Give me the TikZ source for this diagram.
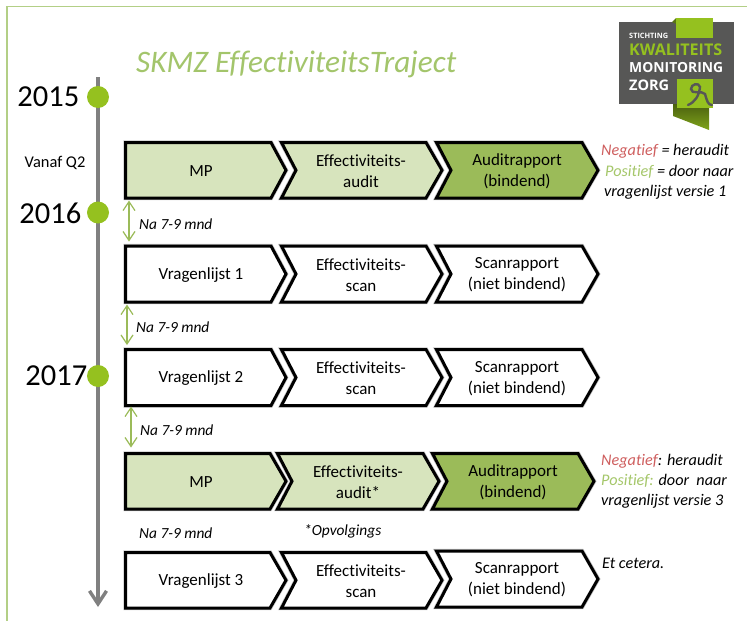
\documentclass[tikz,border=0pt]{standalone}
\usepackage{fontspec}
\usepackage{graphicx}
\setmainfont[Ligatures=NoCommon]{Carlito}
\newfontfamily\logofont{Open Sans}
\usetikzlibrary{arrows.meta}
\definecolor{frameg}{HTML}{B3CF86}
\definecolor{titleg}{HTML}{A3C56B}
\definecolor{lightf}{HTML}{D7E4BD}
\definecolor{darkf}{HTML}{9BBB59}
\definecolor{dotg}{HTML}{95C11F}
\definecolor{axisg}{HTML}{808080}
\definecolor{negr}{HTML}{CF5F5F}
\definecolor{posg}{HTML}{A5C76A}
\definecolor{logog}{HTML}{575756}
\tikzset{
  chevshape/.style={draw=black,line width=3pt,miter limit=10,line join=miter},
  chevshadow/.style={draw=black!22,line width=4.4pt,line join=miter},
  chevtext/.style={align=center,inner sep=0pt,font=\fontsize{17}{21}\selectfont},
  yearlabel/.style={inner sep=0pt,font=\fontsize{30.5}{31}\selectfont},
  yeardot/.style={circle,fill=dotg,inner sep=0pt,minimum size=22pt},
  gaplabel/.style={inner sep=0pt,font=\fontsize{15.4}{15.4}\selectfont\itshape},
  sidelabel/.style={inner sep=0pt,anchor=west,font=\fontsize{16.2}{16.2}\selectfont\itshape},
  gaparrow/.style={draw=darkf,line width=1.2pt,{Straight Barb[length=9pt,width=12pt]}-{Straight Barb[length=9pt,width=12pt]}},
  logotext/.style={inner sep=0pt,anchor=west,font=\logofont\bfseries},
}
% name, left, notch x, shoulder x, tip x, top, bottom, fill, text x, text
\newcommand{\chevr}[9]{%
  \path[chevshadow] (#2,#6) -- (#4,#6) -- (#5,{(#6+#7)/2}) -- (#4,#7) -- (#2,#7) -- (#3,{(#6+#7)/2}) -- cycle;
  \path[chevshape,fill=#8] (#2,#6) -- (#4,#6) -- (#5,{(#6+#7)/2}) -- (#4,#7) -- (#2,#7) -- (#3,{(#6+#7)/2}) -- cycle;
  \coordinate (#1-bl) at (#2,#7);
  \coordinate (#1-tl) at (#2,#6);
  \node[chevtext] (#1) at (#9,{(#6+#7)/2+1}) {\chevtxt};
}
\newcommand{\chevtxt}{}
\begin{document}
\begin{tikzpicture}[x=1pt,y=-1pt]
\useasboundingbox (0,0) rectangle (747,621);
\fill[white] (0,0) rectangle (747,621);
% frame
\draw[frameg,line width=1.6pt] (7,621) -- (7,6.5) -- (747,6.5);
% title
\node[inner sep=0pt,anchor=base west,text=titleg,font=\fontsize{31.3}{32}\selectfont\itshape] (title) at (136,72) {SKMZ EffectiviteitsTraject};
% timeline
\coordinate (axtop) at (98,77);
\coordinate (axend) at (98,607);
\draw[axisg,line width=3.4pt,-{Straight Barb[length=13pt,width=17pt]}] (axtop) -- (axend);
\node[yeardot] (d15) at (98,97) {};
\node[yeardot] (d16) at (98,212.5) {};
\node[yeardot] (d17) at (98,376) {};
\node[yearlabel,anchor=east] (y15) at (79.5,97) {2015};
\node[yearlabel,anchor=east] (y16) at (81.5,213) {2016};
\node[yearlabel,anchor=east] (y17) at (87.5,376) {2017};
\node[inner sep=0pt,font=\fontsize{16.4}{16.4}\selectfont] (q2) at (55,163) {Vanaf Q2};
% row 1
\renewcommand{\chevtxt}{MP}
\chevr{a1}{125.5}{125.5}{271}{286}{142.5}{198}{lightf}{201}
\renewcommand{\chevtxt}{Effectiviteits-\\audit}
\chevr{a2}{281.5}{296}{426}{442}{142.5}{198}{lightf}{361}
\renewcommand{\chevtxt}{Auditrapport\\(bindend)}
\chevr{a3}{436.5}{451}{582}{598}{142.5}{198}{darkf}{517}
% row 2
\renewcommand{\chevtxt}{Vragenlijst 1}
\chevr{b1}{125.5}{125.5}{271}{286}{246}{302}{white}{201}
\renewcommand{\chevtxt}{Effectiviteits-\\scan}
\chevr{b2}{281.5}{296}{426}{442}{246}{302}{white}{361}
\renewcommand{\chevtxt}{Scanrapport\\(niet bindend)}
\chevr{b3}{436.5}{451}{582}{598}{246}{302}{white}{517}
% row 3
\renewcommand{\chevtxt}{Vragenlijst 2}
\chevr{c1}{125.5}{125.5}{271}{286}{349.5}{405.5}{white}{201}
\renewcommand{\chevtxt}{Effectiviteits-\\scan}
\chevr{c2}{281.5}{296}{426}{442}{349.5}{405.5}{white}{361}
\renewcommand{\chevtxt}{Scanrapport\\(niet bindend)}
\chevr{c3}{436.5}{451}{582}{598}{349.5}{405.5}{white}{517}
% row 4
\renewcommand{\chevtxt}{MP}
\chevr{e1}{125.5}{125.5}{270}{286}{453.5}{509}{lightf}{201}
\renewcommand{\chevtxt}{Effectiviteits-\\audit*}
\chevr{e2}{277.5}{292}{423}{439}{453.5}{509}{lightf}{358}
\renewcommand{\chevtxt}{Auditrapport\\(bindend)}
\chevr{e3}{432.5}{447}{578}{594}{453.5}{509}{darkf}{513}
% row 5
\renewcommand{\chevtxt}{Vragenlijst 3}
\chevr{f1}{125.5}{125.5}{270}{286}{552.5}{608}{white}{201}
\renewcommand{\chevtxt}{Effectiviteits-\\scan}
\chevr{f2}{281.5}{296}{426}{442}{552.5}{608}{white}{361}
\renewcommand{\chevtxt}{Scanrapport\\(niet bindend)}
\chevr{f3}{436.5}{451}{582}{598}{551}{607}{white}{517}
% gap arrows
\draw[gaparrow] ([xshift=3.5pt,yshift=-2.5pt]a1-bl) -- ([xshift=3.5pt,yshift=4.5pt]b1-tl);
\draw[gaparrow] ([xshift=1.5pt,yshift=-2.5pt]b1-bl) -- ([xshift=1.5pt,yshift=4.5pt]c1-tl);
\draw[gaparrow] ([xshift=5.5pt,yshift=-1pt]c1-bl) -- ([xshift=5.5pt,yshift=6pt]e1-tl);
% gap labels
\node[gaplabel,anchor=west] (n1) at (139,224) {Na 7-9 mnd};
\node[gaplabel,anchor=west] (n2) at (136,327.5) {Na 7-9 mnd};
\node[gaplabel,anchor=west] (n3) at (140,430) {Na 7-9 mnd};
\node[gaplabel,anchor=west] (n4) at (139,533) {Na 7-9 mnd};
\node[gaplabel,anchor=west] (opv) at (304,531) {*Opvolgings};
% side labels
\node[sidelabel] (s1) at (601,151) {\textcolor{negr}{Negatief} = heraudit};
\node[sidelabel] (s2) at (605,172) {\textcolor{posg}{Positief} = door naar};
\node[sidelabel] (s3) at (604,192) {vragenlijst versie 1};
\node[sidelabel] (s4) at (601,461) {\textcolor{negr}{Negatief}: heraudit};
\node[sidelabel] (s5) at (601,481) {\textcolor{posg}{Positief:} door\ \ naar};
\node[sidelabel] (s6) at (601,501) {vragenlijst versie 3};
\node[sidelabel] (s7) at (602,563) {Et cetera.};
% logo
\fill[logog] (619,22) rectangle (734,104);
\shade[top color=black!50!dotg,bottom color=dotg!85!black] (673,104) -- (709,104) -- (709,130) -- (673,116) -- cycle;
\fill[black!40!dotg] (672,22) -- (676,18) -- (676,24) -- cycle;
\fill[dotg] (676,18) rectangle (713,38);
\fill[dotg] (677,79) rectangle (713,108);
\draw[logog,line width=2.4pt,line cap=round] (688,105) .. controls (695,102) and (699,96) .. (700,87) .. controls (699,82) and (691,84) .. (691,89) .. controls (691,95) and (702,90) .. (705,94) .. controls (707,101) and (708,105) .. (712,105);
\node[logotext,text=white] (lg1) at (629,35.5) {\resizebox{39pt}{!}{STICHTING}};
\node[logotext,text=dotg] (lg2) at (629,50) {\resizebox{93pt}{!}{KWALITEITS}};
\node[logotext,text=white] (lg3) at (629,67.5) {\resizebox{94pt}{!}{MONITORING}};
\node[logotext,text=white] (lg4) at (629,85) {\resizebox{40pt}{!}{ZORG}};
\end{tikzpicture}
\end{document}
